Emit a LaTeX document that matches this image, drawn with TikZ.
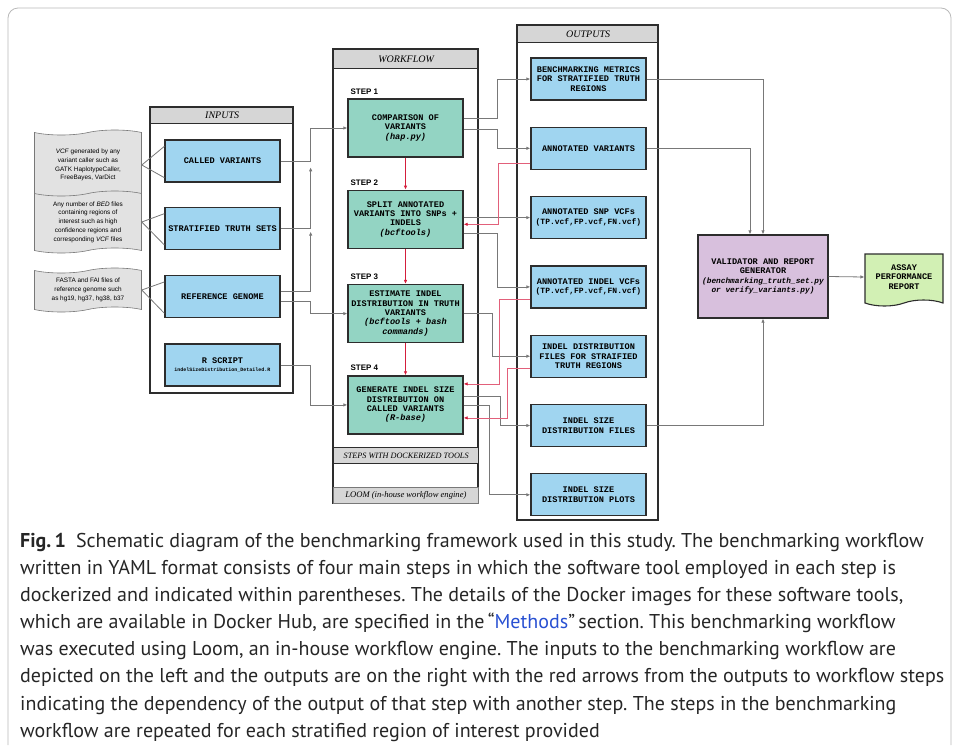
\documentclass[tikz,border=0pt]{standalone}
\usepackage{fontspec}
\setmainfont{Liberation Serif}
\setsansfont{Liberation Sans}
\setmonofont{Liberation Mono}
\newfontfamily\capfont{PT Sans}
\usetikzlibrary{positioning,shapes.symbols,arrows.meta}
\definecolor{boxblue}{RGB}{160,213,240}
\definecolor{stepteal}{RGB}{147,212,195}
\definecolor{valpurple}{RGB}{216,192,221}
\definecolor{repgreen}{RGB}{210,240,180}
\definecolor{hdrgray}{RGB}{214,214,214}
\definecolor{docgray}{RGB}{226,226,226}
\definecolor{boxline}{RGB}{45,45,45}
\definecolor{linkgray}{RGB}{120,120,120}
\definecolor{depred}{RGB}{212,30,60}
\definecolor{deppink}{RGB}{226,96,122}
\definecolor{linkblue}{RGB}{40,80,210}
\frenchspacing

\begin{document}
\begin{tikzpicture}[x=1pt, y=-1pt, >={Latex[length=4pt,width=3.5pt]},
    box/.style = {draw=boxline, line width=1.3pt, align=center, inner sep=1pt,
      font=\ttfamily\bfseries\fontsize{8.6}{9.4}\selectfont},
    inbox/.style = {box, fill=boxblue, minimum width=115pt, minimum height=42pt},
    stepbox/.style = {box, fill=stepteal, minimum width=115pt, minimum height=58pt},
    outbox/.style = {box, fill=boxblue, minimum width=115pt, minimum height=42pt},
    doc/.style = {tape, draw=linkgray, fill=docgray, line width=0.6pt, align=center,
      minimum width=107pt, inner sep=1pt, tape bend height=5pt,
      font=\sffamily\fontsize{6.4}{8.8}\selectfont},
    hdr/.style = {draw=boxline, fill=hdrgray, line width=1.3pt, anchor=north west,
      inner sep=0pt, font=\itshape\fontsize{10}{12}\selectfont},
    panel/.style = {draw=boxline, line width=1.3pt},
    steplbl/.style = {anchor=south west, inner sep=0pt, font=\sffamily\bfseries\fontsize{8}{9}\selectfont},
    link/.style = {draw=linkgray, line width=0.8pt},
    dep/.style = {draw=deppink, line width=0.8pt, -{Latex[length=4pt,width=3.5pt,color=depred]}},
    stepflow/.style = {draw=depred, line width=1pt}]
  \useasboundingbox (0,0) rectangle (958,745);
  \draw[gray!55, line width=0.8pt, rounded corners=10pt] (8,745) -- (8,8) -- (951,8) -- (951,745);

  % panels
  \node[hdr, minimum width=143pt, minimum height=16pt] (hin) at (150,107) {INPUTS};
  \draw[panel] (hin.north west) rectangle (293,393);
  \node[hdr, minimum width=145pt, minimum height=19pt] (hwf) at (333,49) {WORKFLOW};
  \draw[panel] (hwf.north west) rectangle (478,503);
  \node[hdr, minimum width=145pt, minimum height=16pt, font=\itshape\fontsize{8.2}{10}\selectfont] (hdock) at (333,447) {STEPS WITH DOCKERIZED TOOLS};
  \node[hdr, minimum width=145pt, minimum height=16pt, line width=0.8pt, draw=linkgray, font=\itshape\fontsize{8.6}{10}\selectfont] (hloom) at (333,487) {LOOM (in-house workflow engine)};
  \node[hdr, minimum width=141pt, minimum height=17pt] (hout) at (517,25) {OUTPUTS};
  \draw[panel] (hout.north west) rectangle (658,520);

  % inputs
  \node[inbox] (ci) at (222.5,161) {CALLED VARIANTS};
  \node[inbox, below=24pt of ci] (ts) {STRATIFIED TRUTH SETS};
  \node[inbox, below=25pt of ts] (rg) {REFERENCE GENOME};
  \node[inbox, below=25pt of rg] (rs) {R SCRIPT\\[-1pt]{\fontsize{5}{6}\selectfont indelSizeDistribution\_Detailed.R}};

  \node[doc, minimum height=70pt] (d1) at (88,165) {\textit{VCF} generated by any\\variant caller such as\\GATK HaplotypeCaller,\\FreeBayes, VarDict};
  \node[doc, minimum height=62pt] (d2) at (88,222) {Any number of \textit{BED} files\\containing regions of\\interest such as high\\confidence regions and\\corresponding \textit{VCF} files};
  \node[doc, minimum height=44pt] (d3) at (88,290) {FASTA and FAI files of\\reference genome such\\as hg19, hg37, hg38, b37};
  \foreach \d/\b in {d1/ci, d2/ts, d3/rg} {
    \draw[link] (\d.east) -- ([yshift=-7pt]\b.north west);
    \draw[link] (\d.east) -- ([yshift=5pt]\b.south west);
  }

  % workflow steps
  \node[stepbox] (s1) at (405.5,128) {COMPARISON OF\\VARIANTS\\\textit{(hap.py)}};
  \node[stepbox, below=32pt of s1] (s2) {SPLIT ANNOTATED\\VARIANTS INTO SNPs +\\INDELS\\\textit{(bcftools)}};
  \node[stepbox, below=35pt of s2] (s3) {ESTIMATE INDEL\\DISTRIBUTION IN TRUTH\\VARIANTS\\\textit{(bcftools + bash}\\\textit{commands)}};
  \node[stepbox, below=32pt of s3] (s4) {GENERATE INDEL SIZE\\DISTRIBUTION ON\\CALLED VARIANTS\\\textit{(R-base)}};
  \foreach \s/\n in {s1/1, s2/2, s3/3, s4/4}
    \node[steplbl] (l\n) at ([xshift=3pt,yshift=4pt]\s.north west) {STEP \n};
  \draw[stepflow, ->] (s1) -- (s2);
  \draw[stepflow, ->] (s2) -- (s3);
  \draw[stepflow, ->] (s3) -- (s4);

  % outputs
  \node[outbox] (o1) at (588.5,79) {BENCHMARKING METRICS\\FOR STRATIFIED TRUTH\\REGIONS};
  \node[outbox, below=26pt of o1] (o2) {ANNOTATED VARIANTS};
  \node[outbox, below=26pt of o2] (o3) {ANNOTATED SNP VCFs\\{\fontsize{8}{9}\selectfont(TP.vcf,FP.vcf,FN.vcf)}};
  \node[outbox, below=26pt of o3] (o4) {ANNOTATED INDEL VCFs\\{\fontsize{8}{9}\selectfont(TP.vcf,FP.vcf,FN.vcf)}};
  \node[outbox, below=26pt of o4] (o5) {INDEL DISTRIBUTION\\FILES FOR STRAIFIED\\TRUTH REGIONS};
  \node[outbox, below=26pt of o5] (o6) {INDEL SIZE\\DISTRIBUTION FILES};
  \node[outbox, below=26pt of o6] (o7) {INDEL SIZE\\DISTRIBUTION PLOTS};

  \node[box, fill=valpurple, minimum width=130pt, minimum height=83pt] (val) at (763,276.5)
    {VALIDATOR AND REPORT\\GENERATOR\\{\itshape\fontsize{7.8}{9.4}\selectfont(benchmarking\_truth\_set.py}\\{\itshape\fontsize{7.8}{9.4}\selectfont or verify\_variants.py)}};
  \node[tape, tape bend top=none, tape bend height=6pt, draw=boxline, line width=1.1pt, fill=repgreen,
    minimum width=78pt, minimum height=52pt, align=center, inner sep=1pt,
    font=\ttfamily\bfseries\fontsize{8.6}{9.4}\selectfont] (rep) at (904,277) {ASSAY\\PERFORMANCE\\REPORT};

  % inputs to steps
  \draw[link, ->] (ci.east) -- ++(30,0) |- (s1.west);
  \draw[link, ->] (ts.east) -- ++(30,0) -- ++(0,-61);
  \draw[link, ->] ([yshift=5pt]rg.east) -- ++(30,0) -- ++(0,-60);
  \draw[link, ->] ([yshift=-5pt]rg.east) -- ++(30,0) |- (s3.west);
  \draw[link, ->] (rs.east) -- ++(30,0) |- (s4.west);

  % steps to outputs
  \draw[link, ->] ([yshift=10pt]s1.east) -- ++(34,0) |- (o1.west);
  \draw[link, ->] ([yshift=-1pt]s1.east) -- ++(34,0) |- (o2.west);
  \draw[link, ->] (s2.east |- o3.west) -- (o3.west);
  \draw[link, ->] ([yshift=-14pt]s2.east) -- ++(34,0) |- (o4.west);
  \draw[link, ->] (s3.east) -- ++(29,0) |- (o5.west);
  \draw[link, ->] ([yshift=9pt]s4.east) -- ++(37,0) |- (o6.west);
  \draw[link, ->] (s4.east) -- ++(26,0) |- (o7.west);

  % dependencies back to steps
  \draw[dep] ([yshift=-15pt]o2.west) -- ++(-32,0) |- ([yshift=-5pt]s2.east);
  \draw[dep] ([yshift=-12pt]o4.west) -- ++(-31,0) |- ([yshift=21pt]s4.east);
  \draw[dep] ([yshift=-12pt]o5.west) -- ++(-23,0) |- ([yshift=-13pt]s4.east);

  % outputs to validator
  \draw[link, ->] (o1.east) -| (val.north);
  \draw[link, ->] (o2.east) -| ([xshift=-13pt]val.north);
  \draw[link, ->] (o6.east) -| (val.south);
  \draw[link, ->] (val.east) -- (rep.west);

  % caption
  \node[anchor=north west, align=left, inner sep=0pt, text=black!85,
    font=\capfont\fontsize{20}{27.1}\selectfont] (cap) at (20,533)
    {\textbf{Fig.\,1}\hspace{0.5em}Schematic diagram of the benchmarking framework used in this study. The benchmarking workflow\\
    written in YAML format consists of four main steps in which the software tool employed in each step is\\
    dockerized and indicated within parentheses. The details of the Docker images for these software tools,\\
    which are available in Docker Hub, are specified in the\,“\textcolor{linkblue}{Methods}”\,section. This benchmarking workflow\\
    was executed using Loom, an in-house workflow engine. The inputs to the benchmarking workflow are\\
    depicted on the left and the outputs are on the right with the red arrows from the outputs to workflow steps\\
    indicating the dependency of the output of that step with another step. The steps in the benchmarking\\
    workflow are repeated for each stratified region of interest provided};
\end{tikzpicture}
\end{document}
